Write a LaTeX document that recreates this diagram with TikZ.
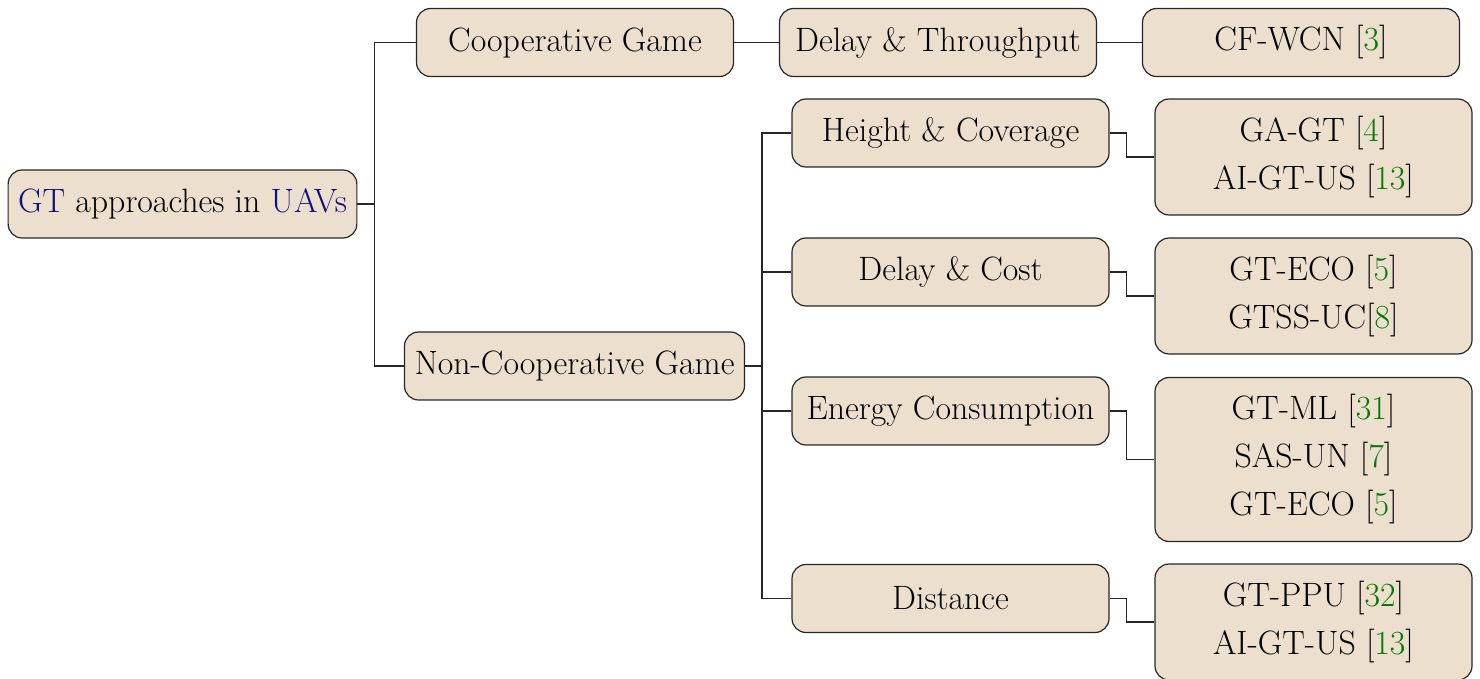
\documentclass[tikz,border=0pt]{standalone}
\definecolor{boxfill}{RGB}{237,223,205}
\definecolor{linkblue}{RGB}{15,15,125}
\definecolor{citegreen}{RGB}{5,120,5}
\newcommand{\refnum}[1]{[\textcolor{citegreen}{#1}]}
\begin{document}
\begin{tikzpicture}[x=0.5pt,y=-0.5pt,
  box/.style={draw=black!85, fill=boxfill, rounded corners=7pt, line width=0.6pt,
    minimum width=158.5pt, minimum height=34pt, inner xsep=5pt, inner ysep=8.55pt,
    align=center, font=\fontsize{16.9}{24}\selectfont},
  link/.style={draw=black!85, line width=0.6pt}]
\useasboundingbox (0,0) rectangle (1480,679);

% levels
\node[box] (root) at (182.5,204) {\textcolor{linkblue}{GT} approaches in \textcolor{linkblue}{UAVs}};
\node[box] (coop) at (575,42.5) {Cooperative Game};
\node[box] (ncoop) at (574.5,366) {Non-Cooperative Game};
\node[box] (dt) at (938,42.5) {Delay \& Throughput};
\node[box] (cf) at (1301,42.5) {CF-WCN \refnum{3}};
\node[box] (hc) at (950.5,133) {Height \& Coverage};
\node[box] (hcl) at (1313.5,157) {GA-GT \refnum{4}\\AI-GT-US \refnum{13}};
\node[box] (dc) at (950.5,272) {Delay \& Cost};
\node[box] (dcl) at (1313.5,296) {GT-ECO \refnum{5}\\GTSS-UC\refnum{8}};
\node[box] (ec) at (950.5,411) {Energy Consumption};
\node[box] (ecl) at (1313.5,459.5) {GT-ML \refnum{31}\\SAS-UN \refnum{7}\\GT-ECO \refnum{5}};
\node[box] (di) at (950.5,598.5) {Distance};
\node[box] (dil) at (1313.5,622) {GT-PPU \refnum{32}\\AI-GT-US \refnum{13}};

% connectors
\draw[link] (root.east) -- ++(17,0) |- (coop.west);
\draw[link] (root.east) -- ++(17,0) |- (ncoop.west);
\draw[link] (coop.east) -- (dt.west);
\draw[link] (dt.east) -- (cf.west);
\foreach \c in {hc,dc,ec,di}
  \draw[link] (ncoop.east) -- ++(17,0) |- (\c.west);
\foreach \a/\b in {hc/hcl,dc/dcl,ec/ecl,di/dil}
  \draw[link] (\a.east) -- ++(17,0) |- (\b.west);
\end{tikzpicture}
\end{document}
